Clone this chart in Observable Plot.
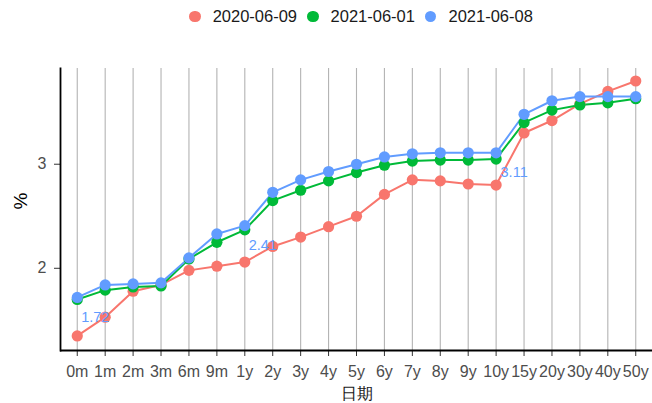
<!DOCTYPE html>
<html>
<head>
<meta charset="utf-8">
<script src="https://cdn.jsdelivr.net/npm/d3@7"></script>
<script src="https://cdn.jsdelivr.net/npm/@observablehq/plot@0.6"></script>
<style>
  body { margin: 0; background: #fff; font-family: "Liberation Sans", Arial, sans-serif; }
  #legend { height: 35px; display: flex; align-items: center; justify-content: center; padding-left: 70px; box-sizing: border-box; width: 652px; font-size: 16.5px; color: #1a1a1a; padding-bottom: 2px; }
  .item { display: flex; align-items: center; margin: 0 5px; }
  .sw { width: 11.5px; height: 11.5px; border-radius: 50%; margin-right: 12px; }
</style>
</head>
<body>
<div id="legend"></div>
<div id="chart"></div>
<script>
const categories = ["0m","1m","2m","3m","6m","9m","1y","2y","3y","4y","5y","6y","7y","8y","9y","10y","15y","20y","30y","40y","50y"];
const seriesNames = ["2020-06-09", "2021-06-01", "2021-06-08"];
const colors = ["#F8766D", "#00BA38", "#619CFF"];
const s2020_06_09 = [1.35,1.53,1.78,1.84,1.98,2.02,2.06,2.21,2.30,2.40,2.50,2.71,2.85,2.84,2.81,2.80,3.30,3.42,3.58,3.70,3.80];
const s2021_06_01 = [1.70,1.79,1.82,1.83,2.09,2.25,2.37,2.65,2.75,2.84,2.92,2.99,3.03,3.04,3.04,3.05,3.40,3.52,3.57,3.59,3.63];
const s2021_06_08 = [1.72,1.84,1.85,1.86,2.10,2.33,2.41,2.73,2.85,2.93,3.00,3.07,3.10,3.11,3.11,3.11,3.48,3.61,3.65,3.65,3.65];
const labelCategories = ["0m", "1y", "10y"];
const yTicks = [2, 3];

const seriesValues = [s2020_06_09, s2021_06_01, s2021_06_08];
const data = [];
seriesNames.forEach((s, j) => categories.forEach((c, i) => data.push({date: s, term: c, value: seriesValues[j][i]})));
const labels = data.filter(d => d.date === "2021-06-08" && labelCategories.includes(d.term));

// legend
const leg = document.getElementById("legend");
seriesNames.forEach((s, j) => {
  const it = document.createElement("div"); it.className = "item";
  const sw = document.createElement("div"); sw.className = "sw"; sw.style.background = colors[j];
  const tx = document.createElement("span"); tx.textContent = s;
  it.appendChild(sw); it.appendChild(tx); leg.appendChild(it);
});

const yDomain = [1.21, 3.92];
const chart = Plot.plot({
  width: 652,
  height: 368,
  marginTop: 33,
  marginBottom: 53,
  marginLeft: 60,
  marginRight: 0,
  style: {fontFamily: "'Liberation Sans', Arial, sans-serif", fontSize: "16px", background: "#fff"},
  x: {type: "point", domain: categories, padding: 0.6, round: false},
  y: {domain: yDomain},
  color: {domain: seriesNames, range: colors},
  marks: [
    Plot.ruleX(categories, {stroke: "#b3b3b3", strokeWidth: 1.1}),
    Plot.line(data, {x: "term", y: "value", z: "date", stroke: "date", strokeWidth: 2}),
    Plot.dot(data, {x: "term", y: "value", fill: "date", r: 5.6}),
    Plot.text(labels, {x: "term", y: "value", text: d => d.value.toFixed(2), fill: "#619CFF", dx: 18, dy: 20, fontSize: 14.5}),
    Plot.axisX({tickSize: 6, tickPadding: 9, stroke: "#333", fill: "#4d4d4d", label: null, fontSize: 16}),
    Plot.axisY({ticks: yTicks, tickFormat: d => String(d), tickSize: 6, tickPadding: 8, stroke: "#333", fill: "#4d4d4d", label: null, fontSize: 16}),
    Plot.ruleY([yDomain[0]], {stroke: "#000", strokeWidth: 1.8}),
    Plot.frame({anchor: "left", stroke: "#000", strokeWidth: 1.8}),
    Plot.text(["日期"], {frameAnchor: "bottom", dy: 43.5, lineAnchor: "middle", fontSize: 16, fill: "#1a1a1a"}),
    Plot.text(["%"], {frameAnchor: "left", dx: -40, rotate: -90, fontSize: 19, fill: "#000"})
  ]
});
document.getElementById("chart").appendChild(chart);
</script>
</body>
</html>
